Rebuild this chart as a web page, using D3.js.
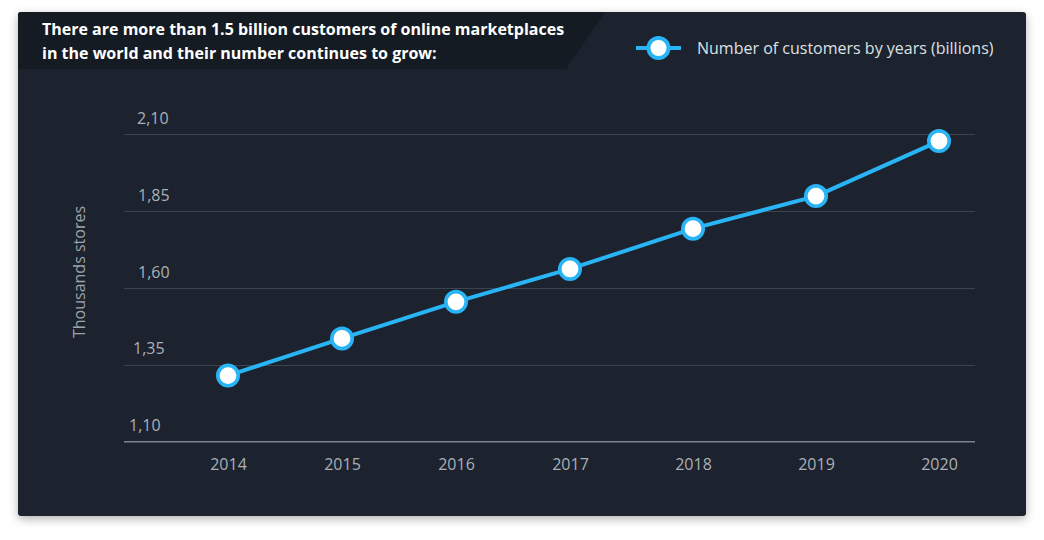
<!DOCTYPE html>
<html>
<head>
<meta charset="utf-8">
<script src="https://cdn.jsdelivr.net/npm/d3@7/dist/d3.min.js"></script>
<style>
  html, body { margin: 0; padding: 0; background: #ffffff; }
  svg { display: block; font-family: "Open Sans", sans-serif; }
</style>
</head>
<body>
<svg id="chart" width="1044" height="540"></svg>
<script>
// ---- data ----
const years = [2014, 2015, 2016, 2017, 2018, 2019, 2020];
const customers = [1.315, 1.436, 1.555, 1.662, 1.793, 1.899, 2.078];
const yTicks = [1.10, 1.35, 1.60, 1.85, 2.10];
const titleLines = [
  "There are more than 1.5 billion customers of online marketplaces",
  "in the world and their number continues to grow:"
];
const legendLabel = "Number of customers by years (billions)";
const yAxisTitle = "Thousands stores";

// ---- setup ----
const svg = d3.select("#chart");
const defs = svg.append("defs");
const f = defs.append("filter").attr("id", "shadow")
  .attr("x", "-5%").attr("y", "-5%").attr("width", "110%").attr("height", "115%");
f.append("feDropShadow").attr("dx", 0).attr("dy", 3).attr("stdDeviation", 5)
  .attr("flood-color", "#000").attr("flood-opacity", 0.3);

// card
svg.append("rect").attr("x", 18).attr("y", 12).attr("width", 1008).attr("height", 504)
  .attr("rx", 3).attr("fill", "#1b232e").attr("filter", "url(#shadow)");

// title box with slanted edge
svg.append("path")
  .attr("d", "M21,12 L605,12 L566,69 L18,69 L18,15 Q18,12 21,12 Z")
  .attr("fill", "#151b22");

svg.append("g").selectAll("text").data(titleLines).join("text")
  .attr("x", 42).attr("y", (d, i) => 35 + i * 24)
  .attr("fill", "#ffffff").attr("font-size", 16).attr("font-weight", 700)
  .text(d => d);

// scales
const x = d3.scaleLinear()
  .domain([2014, 2017, 2020])
  .range([228, 570, 939]);
const y = d3.scaleLinear().domain([1.10, 2.10]).range([441.7, 134.3]);
const fmt = v => d3.format(".2f")(v).replace(".", ",");

// grid
const grid = svg.append("g");
grid.selectAll("line").data(yTicks.slice(1)).join("line")
  .attr("x1", 124).attr("x2", 975)
  .attr("y1", d => Math.round(y(d)) + 0.5).attr("y2", d => Math.round(y(d)) + 0.5)
  .attr("stroke", "#3a434e").attr("stroke-width", 1);
// baseline
svg.append("line").attr("x1", 124).attr("x2", 975)
  .attr("y1", y(1.10)).attr("y2", y(1.10))
  .attr("stroke", "#7b838d").attr("stroke-width", 1.5);

// y tick labels
const yIndent = [129, 133, 138, 138, 137];
svg.append("g").selectAll("text").data(yTicks).join("text")
  .attr("x", (d, i) => yIndent[i])
  .attr("y", d => y(d) - 10.5)
  .attr("fill", "#aab0b7").attr("font-size", 16)
  .text(d => fmt(d));

// x axis labels
const xAxis = d3.axisBottom(x).tickValues(years).tickFormat(d3.format("d")).tickSize(0).tickPadding(0);
const gx = svg.append("g").attr("transform", `translate(0,${470})`).call(xAxis);
gx.select(".domain").remove();
gx.selectAll("text").attr("fill", "#aab0b7").attr("font-size", 16)
  .attr("font-family", "Open Sans, sans-serif").attr("dy", 0).attr("y", 0);

// y axis title
svg.append("text")
  .attr("transform", `translate(85,272) rotate(-90)`)
  .attr("text-anchor", "middle")
  .attr("fill", "#9ea4ab").attr("font-size", 16)
  .text(yAxisTitle);

// line
const lineGen = d3.line().x((d, i) => x(years[i])).y(d => y(d));
svg.append("path").datum(customers)
  .attr("d", lineGen)
  .attr("fill", "none").attr("stroke", "#29b5f5").attr("stroke-width", 4)
  .attr("stroke-linejoin", "round");

svg.append("g").selectAll("circle").data(customers).join("circle")
  .attr("cx", (d, i) => x(years[i])).attr("cy", d => y(d))
  .attr("r", 10.2).attr("fill", "#ffffff")
  .attr("stroke", "#29b5f5").attr("stroke-width", 3.6);

// legend
const lg = svg.append("g");
lg.append("line").attr("x1", 636).attr("x2", 681).attr("y1", 48).attr("y2", 48)
  .attr("stroke", "#29b5f5").attr("stroke-width", 4);
lg.append("circle").attr("cx", 658.5).attr("cy", 48).attr("r", 10)
  .attr("fill", "#ffffff").attr("stroke", "#29b5f5").attr("stroke-width", 4);
lg.append("text").attr("x", 697).attr("y", 53.5)
  .attr("fill", "#dde1e5").attr("font-size", 16)
  .text(legendLabel);
</script>
</body>
</html>
